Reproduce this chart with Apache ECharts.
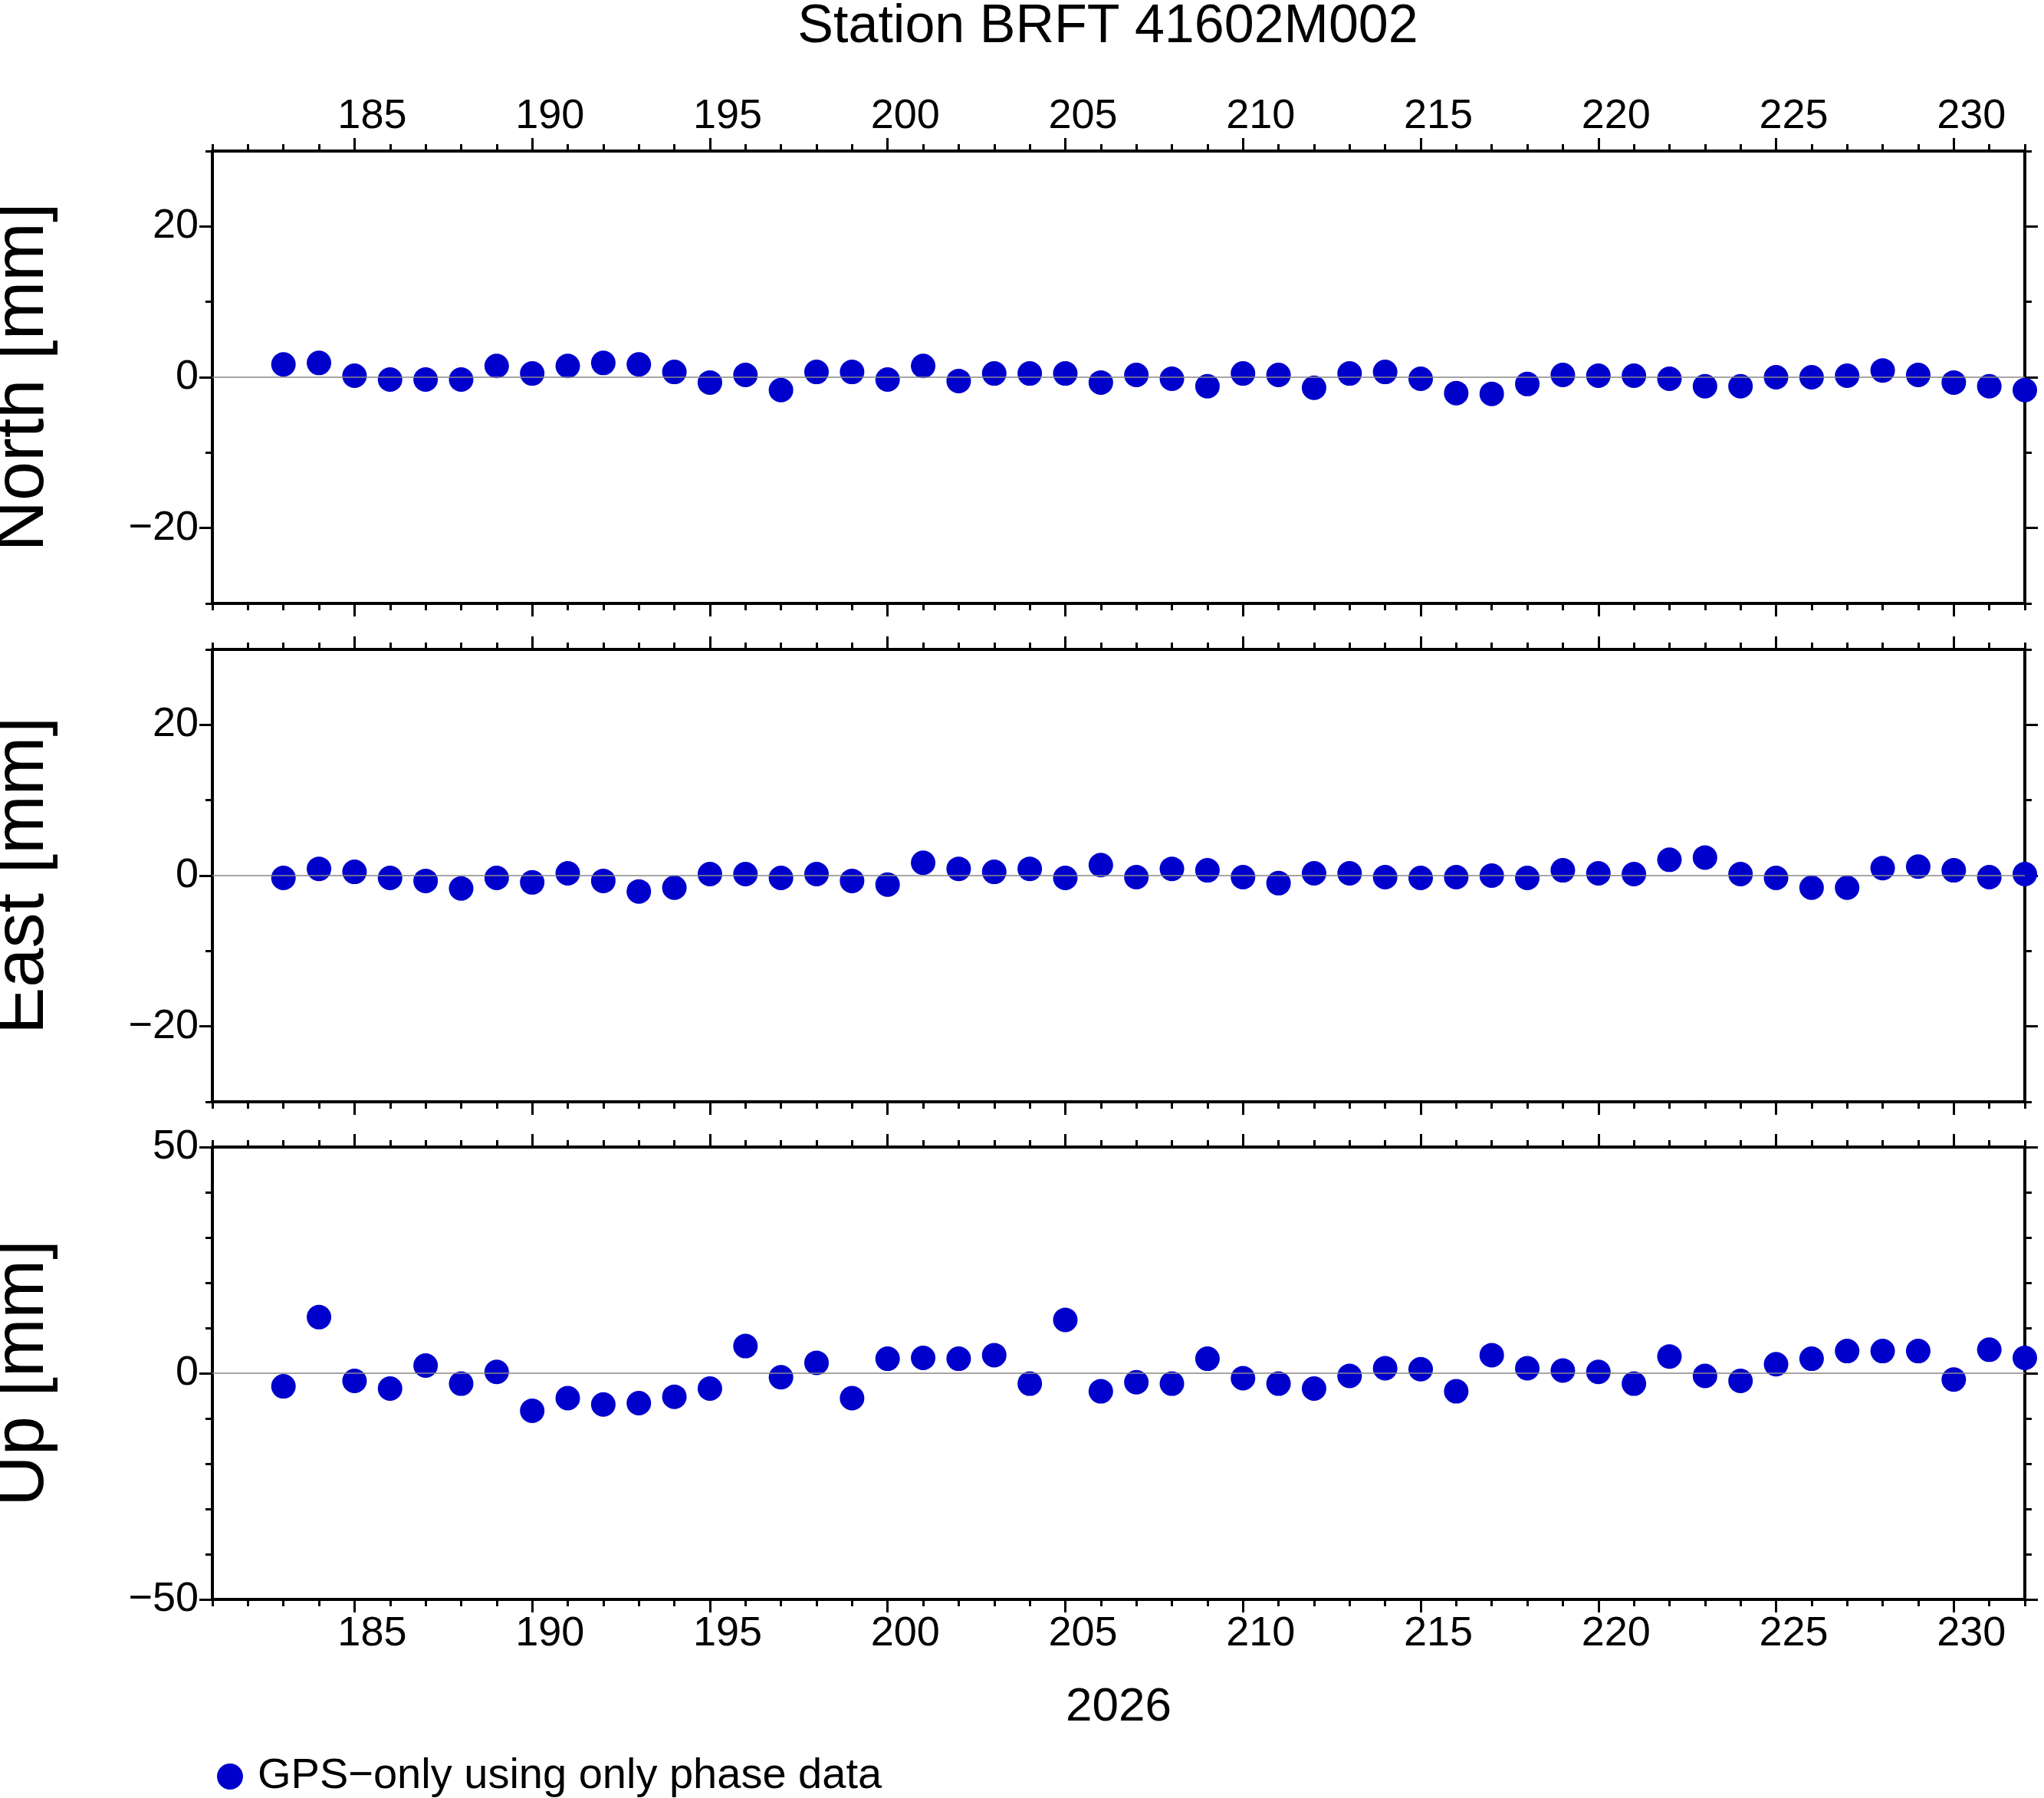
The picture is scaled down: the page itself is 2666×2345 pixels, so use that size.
<!DOCTYPE html>
<html>
<head>
<meta charset="utf-8">
<script src="https://cdn.jsdelivr.net/npm/echarts@6/dist/echarts.min.js"></script>
<style>
html, body { margin: 0; padding: 0; background: #fff; }
#chart { width: 2666px; height: 2345px; }
</style>
</head>
<body>
<div id="chart"></div>
<script>
const days = [];
for (let d = 183; d <= 232; d++) days.push(d);

const north = [1.7, 1.9, 0.2, -0.3, -0.3, -0.3, 1.5, 0.5, 1.5, 1.9, 1.7, 0.7, -0.7, 0.3, -1.7, 0.7, 0.7, -0.3, 1.5, -0.5,
    0.5, 0.5, 0.5, -0.7, 0.3, -0.2, -1.2, 0.5, 0.3, -1.4, 0.5, 0.7, -0.2, -2.1, -2.2, -0.9, 0.3, 0.2, 0.2, -0.2,
    -1.2, -1.2, 0, 0, 0.2, 0.9, 0.3, -0.7, -1.2, -1.7];
const east = [-0.3, 0.9, 0.5, -0.3, -0.7, -1.7, -0.3, -0.9, 0.3, -0.7, -2.1, -1.6, 0.2, 0.2, -0.3, 0.2, -0.7, -1.2, 1.7, 0.9,
    0.5, 0.9, -0.3, 1.4, -0.2, 0.9, 0.7, -0.2, -1.0, 0.3, 0.3, -0.2, -0.3, -0.2, 0, -0.3, 0.7, 0.3, 0.2, 2.1,
    2.4, 0.2, -0.3, -1.6, -1.6, 1.0, 1.2, 0.7, -0.2, 0.2];
const up = [-2.9, 12.4, -1.7, -3.4, 1.7, -2.3, 0.3, -8.3, -5.5, -6.9, -6.6, -5.2, -3.4, 6.0, -0.9, 2.3, -5.5, 3.2, 3.4, 3.2,
    4.0, -2.3, 11.8, -4.0, -2.0, -2.3, 3.2, -1.1, -2.3, -3.4, -0.6, 1.1, 0.9, -4.0, 4.0, 1.1, 0.6, 0.3, -2.3, 3.7,
    -0.6, -1.7, 2.0, 3.2, 4.9, 4.9, 4.9, -1.4, 5.2, 3.4];

const xMajor = [185, 190, 195, 200, 205, 210, 215, 220, 225, 230];
const panels = [
    { name: 'North [mm]', values: north, min: -30, max: 30, major: [-20, 0, 20], minorStep: 10 },
    { name: 'East [mm]', values: east, min: -30, max: 30, major: [-20, 0, 20], minorStep: 10 },
    { name: 'Up [mm]', values: up, min: -50, max: 50, major: [-50, 0, 50], minorStep: 10 }
];

const FONT = 'Liberation Sans';
const tops = [197, 847, 1496];
const panelH = 590;
const blue = '#0000cd';

const grid = [], xAxis = [], yAxis = [], series = [];
const lineStyle = { color: '#000', width: 4 };

panels.forEach((p, i) => {
    grid.push({ left: 277, right: 25, top: tops[i], height: panelH, outerBoundsMode: 'none', containLabel: false });
    const xBase = xAxis.length;
    ['bottom', 'top'].forEach(pos => {
        const showLabel = (pos === 'top' && i === 0) || (pos === 'bottom' && i === 2);
        xAxis.push({
            type: 'value', gridIndex: i, position: pos, min: 181, max: 232,
            axisLine: { show: true, onZero: false, lineStyle: lineStyle },
            axisTick: { show: true, length: 17, lineStyle: { color: '#000', width: 3 }, customValues: xMajor },
            axisLabel: {
                show: showLabel, customValues: xMajor, margin: 18, fontSize: 54, fontFamily: FONT, color: '#000',
                padding: [0, 0, 0, 46]
            },
            splitLine: { show: false },
            name: (pos === 'bottom' && i === 2) ? '2026' : '',
            nameLocation: 'middle', nameGap: 110,
            nameTextStyle: { fontSize: 62, fontFamily: FONT, color: '#000' }
        });
        xAxis.push({
            type: 'value', gridIndex: i, position: pos, min: 181, max: 232, interval: 1,
            axisLine: { show: false, onZero: false },
            axisTick: { show: true, length: 9, lineStyle: { color: '#000', width: 3 } },
            axisLabel: { show: false }, splitLine: { show: false }
        });
    });
    const yBase = yAxis.length;
    ['left', 'right'].forEach(pos => {
        yAxis.push({
            type: 'value', gridIndex: i, position: pos, min: p.min, max: p.max,
            axisLine: { show: true, onZero: false, lineStyle: lineStyle },
            axisTick: { show: true, length: 17, lineStyle: { color: '#000', width: 3 }, customValues: p.major },
            axisLabel: {
                show: pos === 'left', customValues: p.major, margin: 18, fontSize: 54, fontFamily: FONT, color: '#000',
                formatter: v => String(v).replace('-', '\u2212')
            },
            splitLine: { show: false },
            name: pos === 'left' ? p.name : '',
            nameLocation: 'middle', nameGap: 200, nameRotate: 90,
            nameTextStyle: { fontSize: 92, fontFamily: FONT, color: '#000' }
        });
        yAxis.push({
            type: 'value', gridIndex: i, position: pos, min: p.min, max: p.max, interval: p.minorStep,
            axisLine: { show: false, onZero: false },
            axisTick: { show: true, length: 9, lineStyle: { color: '#000', width: 3 } },
            axisLabel: { show: false }, splitLine: { show: false }
        });
    });
    series.push({
        type: 'scatter',
        name: 'GPS\u2212only using only phase data',
        xAxisIndex: xBase, yAxisIndex: yBase,
        data: days.map((d, k) => [d, p.values[k]]),
        symbolSize: 32,
        itemStyle: { color: blue, opacity: 1 },
        markLine: {
            silent: true, symbol: 'none', label: { show: false },
            lineStyle: { color: '#888', width: 1.5, type: 'solid' },
            data: [{ yAxis: 0 }]
        },
        z: 3
    });
});

const chart = echarts.init(document.getElementById('chart'));
chart.setOption({
    animation: false,
    backgroundColor: '#fff',
    title: {
        text: 'Station BRFT 41602M002', left: 1440, top: -4, textAlign: 'center',
        textStyle: { fontSize: 70, fontWeight: 'normal', fontFamily: FONT, color: '#000' }
    },
    legend: {
        left: 278, top: 2284, itemWidth: 34, itemHeight: 34, itemGap: 20,
        data: [{ name: 'GPS\u2212only using only phase data', icon: 'circle' }],
        itemStyle: { opacity: 1 },
        textStyle: { fontSize: 56, fontFamily: FONT, color: '#000', padding: [0, 0, 0, 14] }
    },
    grid, xAxis, yAxis, series
});
</script>
</body>
</html>
